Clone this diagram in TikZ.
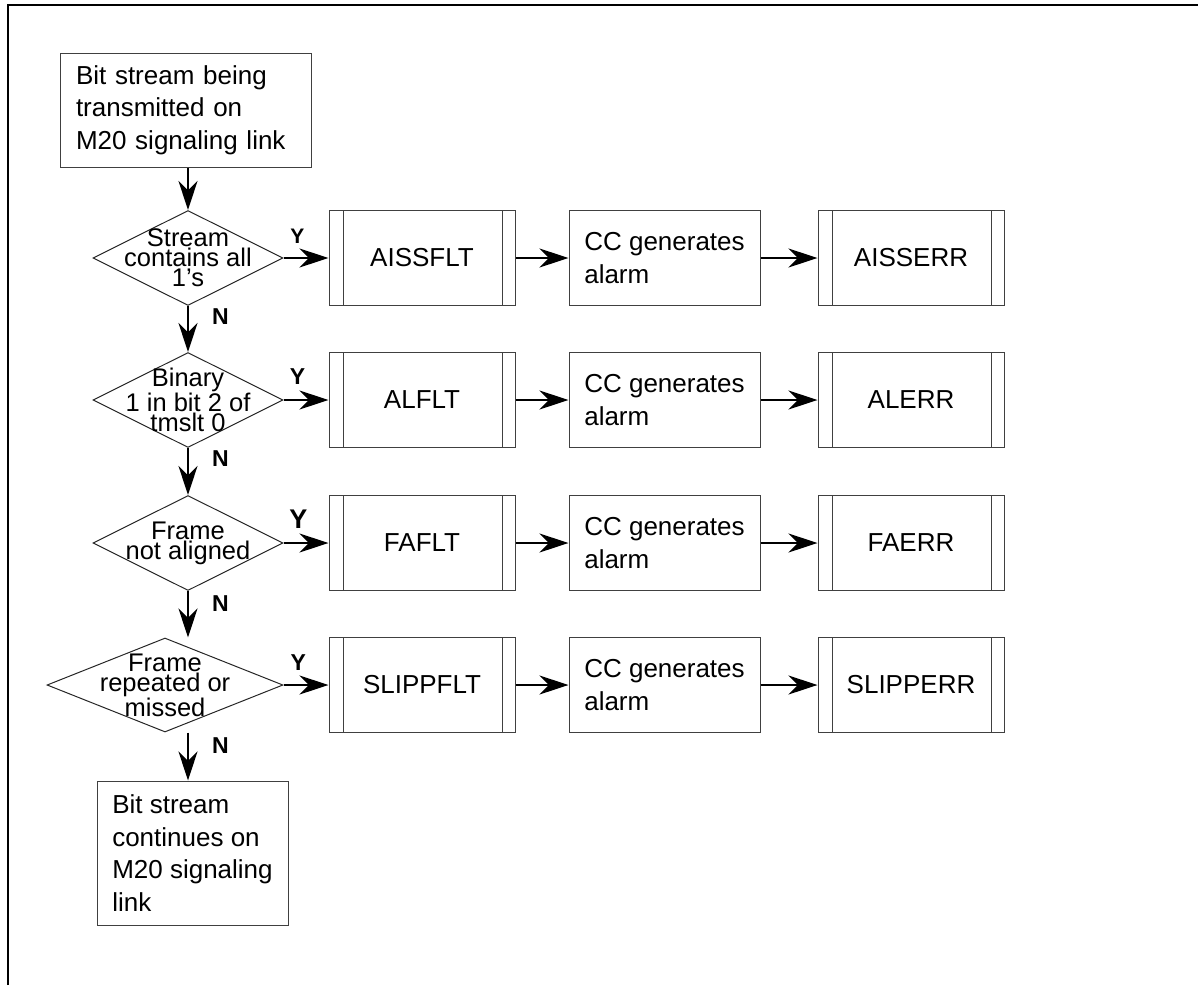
\documentclass[tikz,border=0pt]{standalone}
\usepackage{fontspec}
\setmainfont{Liberation Sans}
\usepackage{tikz}
\usetikzlibrary{positioning,arrows.meta,shapes.geometric,calc}
\newcommand{\boxfont}{\fontsize{26pt}{32.5pt}\selectfont}
\newcommand{\testfont}{\fontsize{25.5pt}{20pt}\selectfont}
\newcommand{\ynfont}{\bfseries\fontsize{23pt}{23pt}\selectfont}
\tikzset{
  node-box/.style={draw=black!75,line width=1pt,align=left,font=\boxfont,
    inner sep=0pt},
  node-proc/.style={node-box,align=center,minimum width=186pt,
    minimum height=95pt,
    path picture={\draw[draw=black!75,line width=1pt]
      ([xshift=14pt]path picture bounding box.north west) --
      ([xshift=14pt]path picture bounding box.south west)
      ([xshift=-13pt]path picture bounding box.north east) --
      ([xshift=-13pt]path picture bounding box.south east);}},
  node-alarm/.style={node-box,minimum width=191pt,minimum height=95pt},
  node-test/.style={diamond,draw=black!85,line width=1pt,inner sep=0pt,
    minimum width=190pt,minimum height=95pt},
  node-test-text/.style={align=center,font=\testfont,inner sep=0pt},
  node-yn/.style={font=\ynfont,inner sep=0pt},
  arrow/.style={-{Stealth[length=29pt,width=19pt]},line width=2pt},
}
\begin{document}
\begin{tikzpicture}[x=1pt,y=-1pt]
  \useasboundingbox (0,0) rectangle (1198,985);
  \draw[line width=2pt] (8,985) -- (8,5) -- (1198,5);

  % main column
  \node[node-box,minimum height=114pt,text width=219pt,inner xsep=16pt]
    (start) at (185.5,110) {Bit stream being\\transmitted on\\M20 signaling link};
  \node[node-test] (d1) at (188,258) {};
  \node[node-test-text] (d1-txt) at (d1) {Stream\\contains all\\1's};
  \node[node-test] (d2) at (188,400) {};
  \node[node-test-text] (d2-txt) at (d2) {Binary\\1 in bit 2 of\\tmslt 0};
  \node[node-test] (d3) at (188,543) {};
  \node[node-test-text] (d3-txt) at (d3) {Frame\\not aligned};
  \node[node-test,minimum width=236pt,minimum height=94pt] (d4) at (165,685) {};
  \node[node-test-text] (d4-txt) at (d4) {Frame\\repeated or\\missed};
  \node[node-box,minimum width=191pt,minimum height=144pt]
    (cont) at (192.5,853) {Bit stream\\continues on\\M20 signaling\\link};

  % fault rows
  \node[node-proc,right=45pt of d1] (aissflt) {AISSFLT};
  \node[node-alarm,right=53pt of aissflt] (cc1) {CC generates\\alarm};
  \node[node-proc,right=57pt of cc1] (aisserr) {AISSERR};
  \node[node-proc,right=45pt of d2] (alflt) {ALFLT};
  \node[node-alarm,right=53pt of alflt] (cc2) {CC generates\\alarm};
  \node[node-proc,right=57pt of cc2] (alerr) {ALERR};
  \node[node-proc,right=45pt of d3] (faflt) {FAFLT};
  \node[node-alarm,right=53pt of faflt] (cc3) {CC generates\\alarm};
  \node[node-proc,right=57pt of cc3] (faerr) {FAERR};
  \node[node-proc,right=45pt of d4] (slippflt) {SLIPPFLT};
  \node[node-alarm,right=53pt of slippflt] (cc4) {CC generates\\alarm};
  \node[node-proc,right=57pt of cc4] (slipperr) {SLIPPERR};

  % N branch
  \draw[arrow] (d1.north |- start.south) -- (d1.north);
  \draw[arrow] (d1.south) -- node[node-yn,right=23pt,pos=0.22] (n1) {N} (d2.north);
  \draw[arrow] (d2.south) -- node[node-yn,right=23pt,pos=0.22] (n2) {N} (d3.north);
  \draw[arrow] (d3.south) -- node[node-yn,right=23pt,pos=0.26] (n3) {N} (d3.south |- d4.north);
  \coordinate (d4-out) at (d4.south -| d3.south);
  \draw[arrow] (d4-out) -- node[node-yn,right=23pt,pos=0.27] (n4) {N} (d4-out |- cont.north);

  % Y branch
  \draw[arrow] (d1.east) -- node[node-yn,above=14pt,pos=0.31,
    font=\bfseries\fontsize{21pt}{21pt}\selectfont] (y1) {Y} (aissflt);
  \draw[arrow] (d2.east) -- node[node-yn,above=15pt,pos=0.31] (y2) {Y} (alflt);
  \draw[arrow] (d3.east) -- node[node-yn,above=14pt,pos=0.33,
    font=\bfseries\fontsize{27pt}{27pt}\selectfont] (y3) {Y} (faflt);
  \draw[arrow] (d4.east) -- node[node-yn,above=14pt,pos=0.33] (y4) {Y} (slippflt);
  \draw[arrow] (aissflt) -- (cc1);
  \draw[arrow] (cc1) -- (aisserr);
  \draw[arrow] (alflt) -- (cc2);
  \draw[arrow] (cc2) -- (alerr);
  \draw[arrow] (faflt) -- (cc3);
  \draw[arrow] (cc3) -- (faerr);
  \draw[arrow] (slippflt) -- (cc4);
  \draw[arrow] (cc4) -- (slipperr);
\end{tikzpicture}
\end{document}
